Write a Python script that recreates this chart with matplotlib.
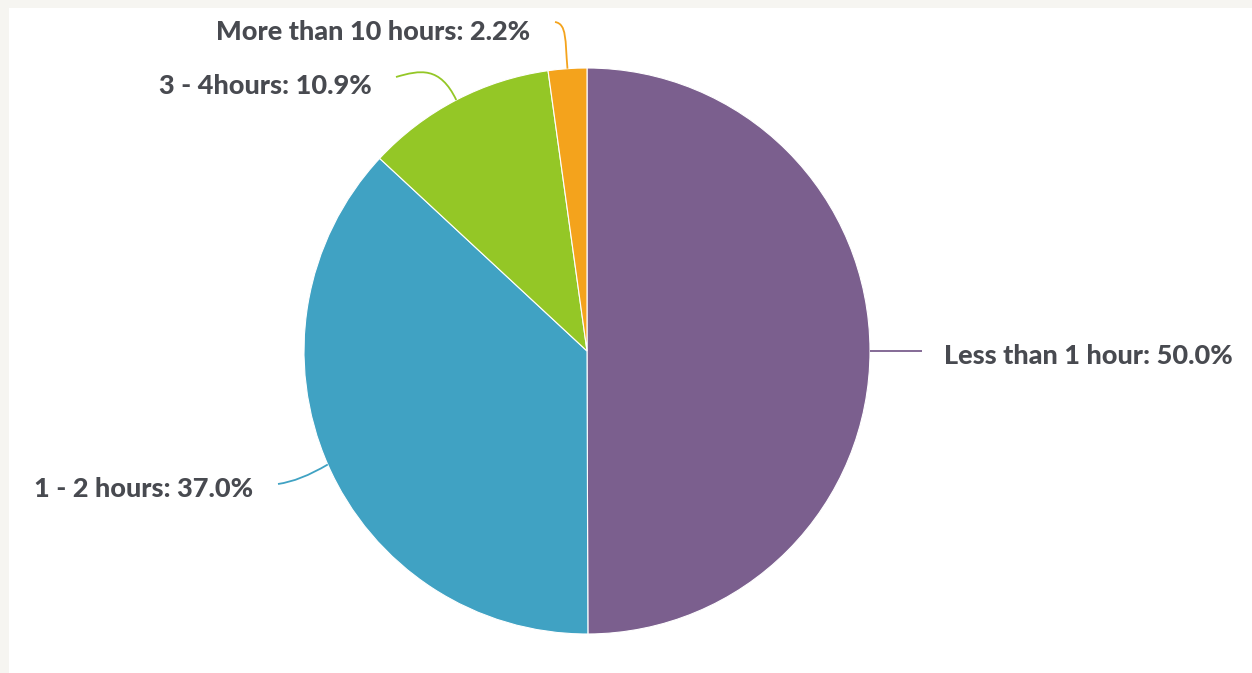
import numpy as np
import matplotlib
matplotlib.use("Agg")
import matplotlib.pyplot as plt
from matplotlib.path import Path
from matplotlib.patches import PathPatch

categories = ["Less than 1 hour", "1 - 2 hours", "3 - 4hours", "More than 10 hours"]
values = [50.0, 37.0, 10.9, 2.2]
colors = ["#7b5f8e", "#40a2c3", "#94c726", "#f4a31c"]

W, H = 1252, 673
fig = plt.figure(figsize=(W / 100, H / 100), dpi=100, facecolor="#f6f5f1")
bg = fig.add_axes([9 / W, 0, 1, 1 - 8 / H], zorder=-5)
bg.set_facecolor("white")
bg.set_xticks([]); bg.set_yticks([])
for s in bg.spines.values():
    s.set_visible(False)

cx, cy, r = 587, 351, 283
ax = fig.add_axes([(cx - r) / W, (H - cy - r) / H, 2 * r / W, 2 * r / H], zorder=1)
ax.set_facecolor("none")
wedges, _ = ax.pie(values, colors=colors, startangle=90, counterclock=False,
                   wedgeprops=dict(edgecolor="white", linewidth=0.8))
ax.set_xlim(-1, 1)
ax.set_ylim(-1, 1)
ax.axis("off")

fig.canvas.draw()

def px(x, y):
    return (x, H - y)

font = dict(family=["Lato", "DejaVu Sans"], fontweight="black", fontsize=19.5, color="#484a50")

label_specs = [
    dict(ctrl=[(922, None)], text=(944, 356), ha="left"),
    dict(ctrl=[(300, 481), (278, 484)], text=(253, 489), ha="right"),
    dict(ctrl=[(440, 66), (420, 70), (396, 77)], text=(372, 86), ha="right"),
    dict(ctrl=[(565, 40), (567, 24), (555, 22)], text=(530, 32), ha="right"),
]

for w, cat, val, col, spec in zip(wedges, categories, values, colors, label_specs):
    ang = np.deg2rad((w.theta1 + w.theta2) / 2)
    ex, ey = ax.transData.transform((np.cos(ang), np.sin(ang)))
    ctrl = [px(*p) if p[1] is not None else (p[0], ey) for p in spec["ctrl"]]
    pts = [(ex, ey)] + ctrl
    if len(pts) == 2:
        codes = [Path.MOVETO, Path.LINETO]
    elif len(pts) == 3:
        codes = [Path.MOVETO, Path.CURVE3, Path.CURVE3]
    else:
        codes = [Path.MOVETO, Path.CURVE4, Path.CURVE4, Path.CURVE4]
    fig.patches.append(PathPatch(Path(pts, codes), transform=None, facecolor="none",
                                 edgecolor=col, linewidth=1.3, zorder=3))
    tx, ty = px(*spec["text"])
    fig.text(tx / W, ty / H, f"{cat}: {val:.1f}%", ha=spec["ha"], va="center", **font)

fig.savefig("out.png", dpi=100, facecolor=fig.get_facecolor())
